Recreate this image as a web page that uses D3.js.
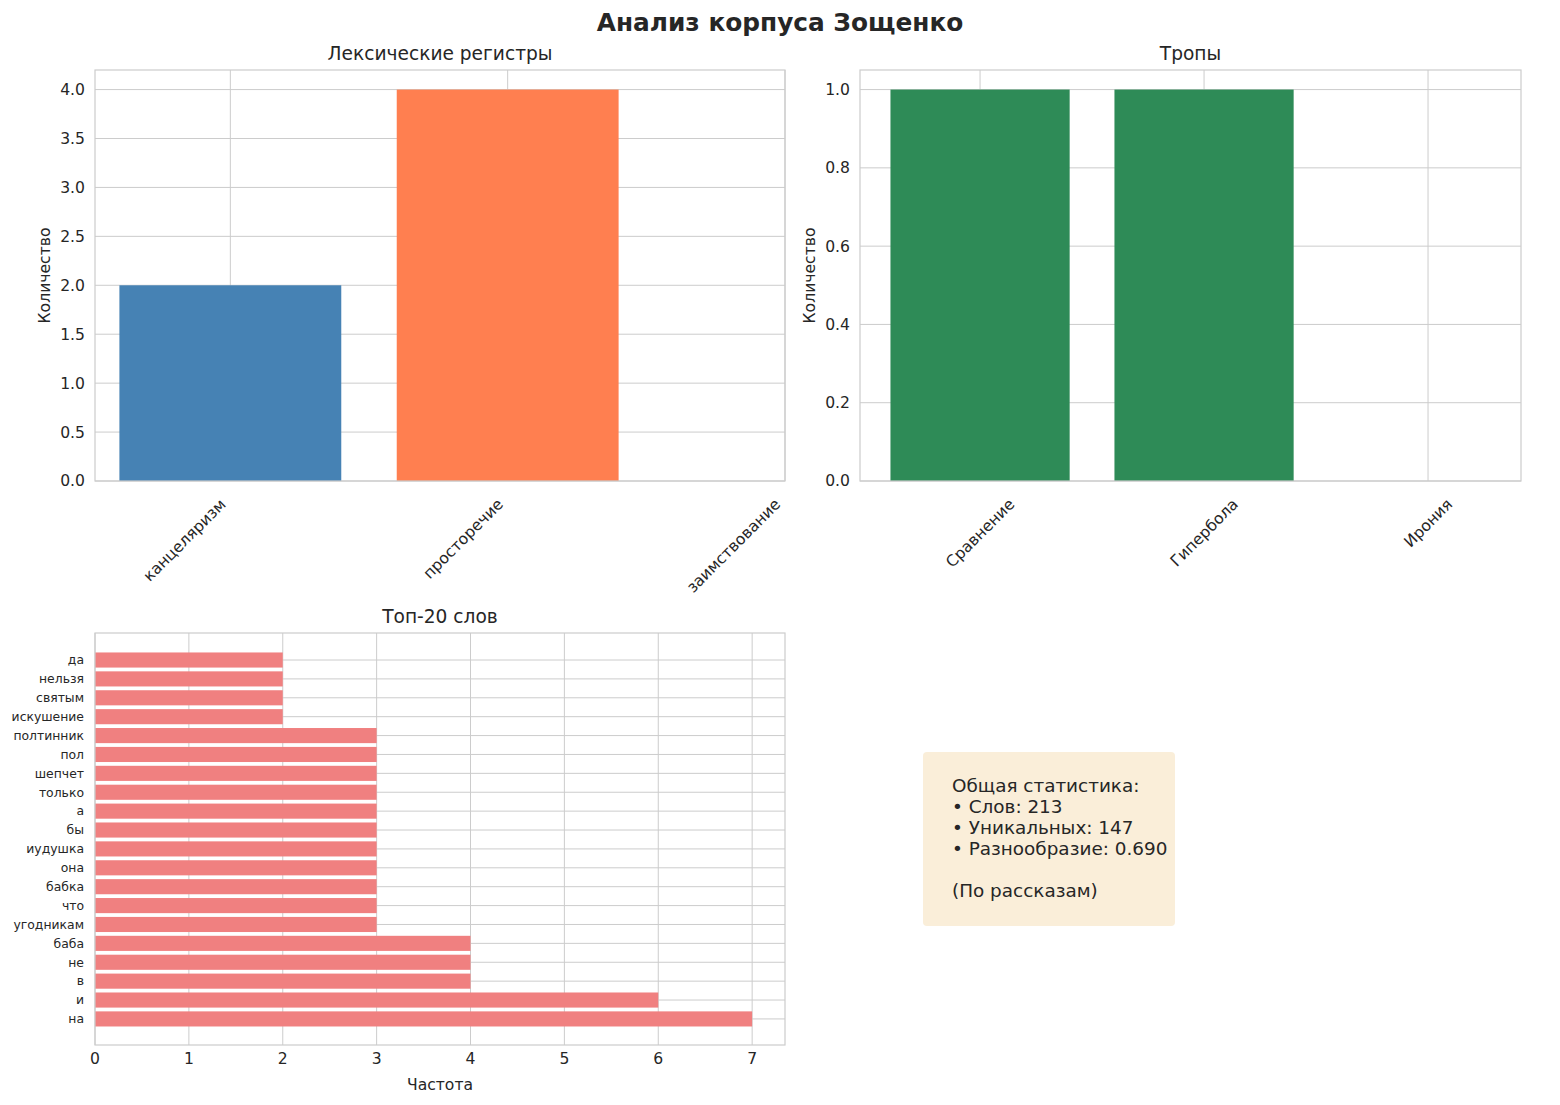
<!DOCTYPE html>
<html lang="ru">
<head>
<meta charset="utf-8">
<title>Анализ корпуса Зощенко</title>
<style>
  body { margin: 0; background: #fff; }
  svg { font-family: "DejaVu Sans", sans-serif; }
  .grid line { stroke: #cccccc; stroke-width: 1; }
</style>
</head>
<body>
<svg id="chart" width="1560" height="1105"></svg>
<script src="https://cdn.jsdelivr.net/npm/d3@7"></script>
<script>
  // data
  var registerNames = ["канцеляризм", "просторечие", "заимствование"];
  var registerCounts = [2, 4, 0];
  var registerColors = ["#4682B4", "#FF7F50", "#FF7F50"];

  var tropeNames = ["Сравнение", "Гипербола", "Ирония"];
  var tropeCounts = [1, 1, 0];

  // bottom to top, as drawn
  var topWords = ["на", "и", "в", "не", "баба", "угодникам", "что", "бабка", "она", "иудушка",
                  "бы", "а", "только", "шепчет", "пол", "полтинник", "искушение", "святым", "нельзя", "да"];
  var topFreqs = [7, 6, 4, 4, 4, 3, 3, 3, 3, 3, 3, 3, 3, 3, 3, 3, 2, 2, 2, 2];

  var statsLines = ["Общая статистика:", "• Слов: 213", "• Уникальных: 147", "• Разнообразие: 0.690", "", "(По рассказам)"];

  var svg = d3.select("#chart");
  var textColor = "#262626", gridColor = "#cccccc";
  var tickFs = 15.6, titleFs = 18.6;

  svg.append("text")
    .attr("x", 780).attr("y", 31)
    .attr("text-anchor", "middle")
    .style("font-size", "24.8px").style("font-weight", "bold")
    .attr("fill", textColor)
    .text("Анализ корпуса Зощенко");

  function frame(g, w, h) {
    g.append("rect").attr("width", w).attr("height", h)
      .attr("fill", "none").attr("stroke", gridColor).attr("stroke-width", 1.2);
  }

  // vertical bar panel
  function vbars(box, names, vals, colors, xdom, ymax, yticks, fmt, title, align) {
    var w = box.r - box.l, h = box.b - box.t;
    var g = svg.append("g").attr("transform", "translate(" + box.l + "," + box.t + ")");
    var x = d3.scaleLinear().domain(xdom).range([0, w]);
    var y = d3.scaleLinear().domain([0, ymax]).range([h, 0]);

    g.append("g").attr("class", "grid")
      .selectAll("line").data(yticks).join("line")
      .attr("x1", 0).attr("x2", w).attr("y1", y).attr("y2", y);
    g.append("g").attr("class", "grid")
      .selectAll("line").data(d3.range(names.length).filter(function (i) { return x(i) <= w; })).join("line")
      .attr("y1", 0).attr("y2", h).attr("x1", x).attr("x2", x);

    g.selectAll("rect.bar").data(vals).join("rect")
      .attr("class", "bar")
      .attr("x", function (d, i) { return x(i - 0.4); })
      .attr("width", x(0.8) - x(0))
      .attr("y", function (d) { return y(d); })
      .attr("height", function (d) { return h - y(d); })
      .attr("fill", function (d, i) { return colors[i]; });

    frame(g, w, h);

    g.selectAll("text.yt").data(yticks).join("text")
      .attr("x", -10).attr("y", y).attr("dy", "0.35em")
      .attr("text-anchor", "end").style("font-size", tickFs + "px").attr("fill", textColor)
      .text(fmt);

    // rotated tick labels, placed like matplotlib: rotated box top under the axis
    g.selectAll("text.xt").data(names).join("text")
      .attr("text-anchor", "middle").attr("dy", "0.35em")
      .style("font-size", tickFs + "px").attr("fill", textColor)
      .text(function (d) { return d; })
      .attr("transform", function (d, i) {
        var L = this.getComputedTextLength();
        var bw = (L + tickFs * 1.17) * Math.SQRT1_2;
        var cx = align === "right" ? x(i) - 1 - bw / 2 : x(i);
        var cy = h + 14 + bw / 2;
        return "translate(" + cx + "," + cy + ") rotate(-45)";
      });

    g.append("text").attr("x", w / 2).attr("y", -10)
      .attr("text-anchor", "middle").style("font-size", titleFs + "px").attr("fill", textColor)
      .text(title);

    g.append("text")
      .attr("transform", "translate(" + (-45) + "," + (h / 2) + ") rotate(-90)")
      .attr("text-anchor", "middle").style("font-size", tickFs + "px").attr("fill", textColor)
      .text("Количество");
  }

  vbars({ l: 95, t: 70, r: 785, b: 481 }, registerNames, registerCounts, registerColors,
    [-0.488, 2.0], 4.2, d3.range(0, 4.01, 0.5), d3.format(".1f"), "Лексические регистры", "right");

  vbars({ l: 860, t: 70, r: 1521, b: 481 }, tropeNames, tropeCounts, ["#2E8B57", "#2E8B57", "#2E8B57"],
    [-0.536, 2.415], 1.05, d3.range(0, 1.01, 0.2), d3.format(".1f"), "Тропы", "center");

  // horizontal bar panel
  (function () {
    var box = { l: 95, t: 633, r: 785, b: 1045 };
    var w = box.r - box.l, h = box.b - box.t;
    var g = svg.append("g").attr("transform", "translate(" + box.l + "," + box.t + ")");
    var x = d3.scaleLinear().domain([0, 7.35]).range([0, w]);
    var y = d3.scaleLinear().domain([-1.38, 20.43]).range([h, 0]);
    var xt = d3.range(0, 8);

    g.append("g").attr("class", "grid")
      .selectAll("line").data(xt).join("line")
      .attr("y1", 0).attr("y2", h).attr("x1", x).attr("x2", x);
    g.append("g").attr("class", "grid")
      .selectAll("line").data(topWords).join("line")
      .attr("x1", 0).attr("x2", w)
      .attr("y1", function (d, i) { return y(i); }).attr("y2", function (d, i) { return y(i); });

    g.selectAll("rect.bar").data(topFreqs).join("rect")
      .attr("x", x(0))
      .attr("y", function (d, i) { return y(i + 0.4); })
      .attr("height", y(0) - y(0.8))
      .attr("width", function (d) { return x(d) - x(0); })
      .attr("fill", "#F08080");

    frame(g, w, h);

    g.selectAll("text.yt").data(topWords).join("text")
      .attr("x", -11).attr("y", function (d, i) { return y(i); }).attr("dy", "0.35em")
      .attr("text-anchor", "end").style("font-size", "12.4px").attr("fill", textColor)
      .text(function (d) { return d; });

    g.selectAll("text.xt").data(xt).join("text")
      .attr("x", x).attr("y", h + 19)
      .attr("text-anchor", "middle").style("font-size", tickFs + "px").attr("fill", textColor)
      .text(function (d) { return d; });

    g.append("text").attr("x", w / 2).attr("y", h + 45)
      .attr("text-anchor", "middle").style("font-size", tickFs + "px").attr("fill", textColor)
      .text("Частота");

    g.append("text").attr("x", w / 2).attr("y", -10)
      .attr("text-anchor", "middle").style("font-size", titleFs + "px").attr("fill", textColor)
      .text("Топ-20 слов");
  })();

  // stats box
  var sb = svg.append("g").attr("transform", "translate(923,752)");
  sb.append("rect").attr("width", 252).attr("height", 174).attr("rx", 4)
    .attr("fill", "#F5DEB3").attr("fill-opacity", 0.5);
  sb.selectAll("text").data(statsLines).join("text")
    .attr("x", 29).attr("y", function (d, i) { return 40 + i * 21; })
    .style("font-size", "18.4px").attr("fill", textColor)
    .text(function (d) { return d; });
</script>
</body>
</html>
